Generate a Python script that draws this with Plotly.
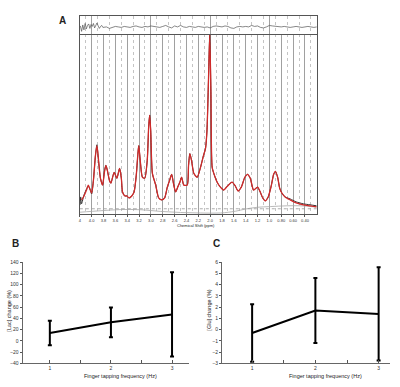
import plotly.graph_objects as go

W, H = 400, 387

# ---------------- Panel A data (spectrum) ----------------
fit_ppm = [4.171, 4.129, 4.087, 4.057, 4.029, 4.000, 3.970, 3.936, 3.911, 3.886,
           3.852, 3.815, 3.785, 3.760, 3.735, 3.701, 3.676, 3.620, 3.575, 3.529,
           3.499, 3.479, 3.440, 3.407, 3.368, 3.323, 3.284, 3.247, 3.222, 3.205,
           3.180, 3.143, 3.104, 3.062, 3.037, 3.020, 3.003, 2.975, 2.919, 2.869,
           2.818, 2.768, 2.723, 2.684, 2.650, 2.617, 2.583, 2.541, 2.511, 2.482,
           2.444, 2.387, 2.365, 2.343, 2.314, 2.276, 2.219, 2.163, 2.113, 2.079,
           2.054, 2.029, 2.007, 1.987, 1.966, 1.928, 1.882, 1.827, 1.771, 1.709,
           1.630, 1.575, 1.529, 1.474, 1.415, 1.368, 1.323, 1.267, 1.200, 1.155,
           1.113, 1.071, 1.020, 0.970, 0.928, 0.898, 0.861, 0.827, 0.790, 0.735,
           0.650, 0.549, 0.427, 0.314, 0.203]
fit_vals = [14, 18, 24, 29, 25, 21, 34, 59, 69, 56,
            36, 29, 42, 49, 44, 34, 31, 42, 36, 46,
            36, 22, 18, 18, 16, 18, 22, 39, 59, 69,
            54, 37, 36, 54, 89, 100, 84, 41, 29, 16,
            14, 16, 27, 34, 40, 30, 22, 28, 32, 37,
            29, 29, 49, 61, 54, 41, 37, 47, 59, 66,
            84, 134, 182, 124, 47, 39, 32, 27, 24, 28,
            32, 28, 23, 27, 37, 40, 36, 24, 27, 22,
            16, 13, 17, 28, 40, 43, 37, 26, 21, 17,
            14, 11, 9, 8, 7]
data_ppm = [4.195, 4.185] + fit_ppm
data_vals = [9, 17, 10, 19, 25, 28, 25, 20, 34, 59, 70, 55,
             36, 29, 43, 49, 44, 34, 31, 42, 36, 46,
             36, 22, 18, 18, 16, 18, 22, 39, 59, 69,
             54, 37, 36, 54, 89, 100, 84, 41, 29, 16,
             14, 16, 27, 34, 40, 30, 22, 28, 32, 37,
             29, 29, 49, 61, 54, 41, 37, 47, 59, 66,
             84, 134, 182, 124, 47, 39, 32, 27, 24, 28,
             32, 28, 23, 27, 37, 40, 36, 24, 27, 22,
             16, 13, 17, 28, 40, 43, 37, 26, 21, 17,
             15, 12, 10, 9, 8]
base_ppm = [4.197, 3.844, 3.508, 3.171, 2.835, 2.499, 2.163, 1.826, 1.574, 1.406,
            1.205, 0.986, 0.701, 0.482, 0.203]
base_vals = [1.5, 3, 4.2, 4, 2.3, 1.2, 0.7, 0.7, 2.5, 4.7, 6.5, 7.2, 8, 8, 6.7]
ref_level = 5

res_ppm = [4.19, 4.17, 4.15, 4.13, 4.11, 4.09, 4.07, 4.05, 4.03, 4.01,
           3.99, 3.97, 3.95, 3.93, 3.91, 3.89, 3.87, 3.85, 3.83, 3.81,
           3.75, 3.70, 3.65, 3.60, 3.55, 3.50, 3.45, 3.40, 3.35, 3.30,
           3.25, 3.20, 3.15, 3.10, 3.05, 3.00, 2.95, 2.90, 2.85, 2.80,
           2.75, 2.70, 2.65, 2.60, 2.55, 2.50, 2.45, 2.40, 2.35, 2.30,
           2.25, 2.20, 2.15, 2.10, 2.05, 2.00, 1.95, 1.90, 1.85, 1.80,
           1.75, 1.70, 1.65, 1.60, 1.55, 1.50, 1.45, 1.40, 1.35, 1.30,
           1.25, 1.20, 1.15, 1.10, 1.05, 1.00, 0.95, 0.90, 0.85, 0.80,
           0.75, 0.70, 0.65, 0.60, 0.55, 0.50, 0.45, 0.40, 0.35, 0.30,
           0.25, 0.20]
res_vals = [1, -4.5, 2, -3, 3.5, -2, 1.5, 3, -1.5, 2.5,
            0.5, 3.5, -1, 2, 4, 1, -1.5, 0.5, 1.5, -0.5,
            0, -1.5, -0.5, 0.5, 0, -0.5, 0.5, 0, -0.5, 0.5,
            1, 0, -0.5, 0.5, 0, 1, 0.5, 0, -0.5, 0.5,
            1.5, 0, -1, 1, 0, 1.5, 0, -0.5, 0.5, 0,
            -0.5, 0.5, 0, -0.5, 0, -1, 0.5, 1, 0.5, 0,
            1, 0.5, -1, -1.5, 0, 0.5, 0, 0.5, 0, 1.5,
            0.5, 1, -0.5, -1, 0, 1.5, 1, 0.5, 0.5, 0,
            0.5, 0, -0.5, 0, 0.5, 0, -0.5, 0, 0.5, 0,
            -0.5, 0]

spec_ticks = [4.2, 4.0, 3.8, 3.6, 3.4, 3.2, 3.0, 2.8, 2.6, 2.4, 2.2, 2.0,
              1.8, 1.6, 1.4, 1.2, 1.0, 0.8, 0.6, 0.4]
spec_ticklabels = ["4", "4.0", "3.8", "3.6", "3.4", "3.2", "3.0", "2.8", "2.6", "2.4",
                   "2.2", "2.0", "1.8", "1.6", "1.4", "1.2", "1.0", "0.80", "0.60", "0.40"]
spec_minor = [4.1, 3.9, 3.7, 3.5, 3.3, 3.1, 2.9, 2.7, 2.5, 2.3, 2.1, 1.9,
              1.7, 1.5, 1.3, 1.1, 0.9, 0.7, 0.5, 0.3]

# ---------------- Panels B / C data ----------------
freq = [1, 2, 3]
freq_labels = ["1", "2", "3"]
lac_mean = [14, 33, 47]
lac_err = [21.6, 26.5, 75]
lac_ticks = [140, 120, 100, 80, 60, 40, 20, 0, -20, -40]
glu_mean = [-0.3, 1.7, 1.4]
glu_err = [2.55, 2.9, 4.15]
glu_ticks = [6, 5, 4, 3, 2, 1, 0, -1, -2, -3]

FONT = "Liberation Sans, Arial, sans-serif"


def px(x):
    return x / W


def py(y):
    return 1 - y / H


fig = go.Figure()

# Panel A traces
fig.add_trace(go.Scatter(x=base_ppm, y=base_vals, mode="lines", line=dict(color="#a8a8a8", width=0.8, shape="spline"),
                         xaxis="x", yaxis="y", hoverinfo="skip"))
fig.add_trace(go.Scatter(x=[spec_ticks[0], 0.2], y=[ref_level, ref_level], mode="lines",
                         line=dict(color="#999999", width=0.8, dash="dot"), xaxis="x", yaxis="y"))
fig.add_trace(go.Scatter(x=data_ppm, y=data_vals, mode="lines", line=dict(color="#333333", width=1.0, shape="spline", smoothing=0.6),
                         xaxis="x", yaxis="y"))
fig.add_trace(go.Scatter(x=fit_ppm, y=fit_vals, mode="lines", line=dict(color="#d02a2a", width=1.3, shape="spline", smoothing=0.6),
                         xaxis="x", yaxis="y"))
fig.add_trace(go.Scatter(x=res_ppm, y=res_vals, mode="lines", line=dict(color="#555555", width=0.7),
                         xaxis="x2", yaxis="y2"))

# Panel B
fig.add_trace(go.Scatter(x=freq, y=lac_mean, mode="lines", line=dict(color="black", width=2),
                         error_y=dict(type="data", array=lac_err, color="black", thickness=2, width=2),
                         xaxis="x3", yaxis="y3"))
# Panel C
fig.add_trace(go.Scatter(x=freq, y=glu_mean, mode="lines", line=dict(color="black", width=2),
                         error_y=dict(type="data", array=glu_err, color="black", thickness=2, width=2),
                         xaxis="x4", yaxis="y4"))

spec_dom_x = [px(79), px(316.6)]
grid_common = dict(showgrid=True, gridcolor="#a0a0a0", gridwidth=0.8,
                   minor=dict(tickvals=spec_minor, showgrid=True, gridcolor="#c4c4c4", griddash="dot", gridwidth=0.8),
                   zeroline=False)

small_axis = dict(showline=True, linecolor="#666666", linewidth=1, zeroline=False, showgrid=False,
                  tickfont=dict(size=5, color="#333333", family=FONT))

fig.update_layout(
    width=W, height=H, margin=dict(l=0, r=0, t=0, b=0),
    paper_bgcolor="white", plot_bgcolor="white", showlegend=False,
    font=dict(family=FONT),
    xaxis=dict(domain=spec_dom_x, range=[4.2, 0.2], anchor="y",
               tickvals=spec_ticks, ticktext=spec_ticklabels, ticks="outside", ticklen=2, tickcolor="#555",
               tickfont=dict(size=4, color="#333", family=FONT),
               showline=True, linecolor="#555555", linewidth=1, **grid_common),
    yaxis=dict(domain=[py(214.5), py(31)], range=[-0.5, 183], anchor="x",
               showticklabels=False, ticks="", showgrid=False, zeroline=False,
               showline=True, mirror=True, linecolor="#555555", linewidth=1),
    xaxis2=dict(domain=spec_dom_x, range=[4.2, 0.2], anchor="y2", showticklabels=False, ticks="",
                showline=True, mirror=True, linecolor="#555555", linewidth=1, **grid_common),
    yaxis2=dict(domain=[py(31), py(13)], range=[-6.7, 11.3], anchor="x2",
                showticklabels=False, ticks="", showgrid=False, zeroline=False,
                showline=True, mirror=True, linecolor="#555555", linewidth=1),
    xaxis3=dict(domain=[px(21.7), px(188)], range=[0.555, 3.27], anchor="y3",
                tickvals=freq, ticktext=freq_labels, ticks="inside", ticklen=3, tickcolor="#555",
                minor=dict(tickvals=[1.5, 2.5], ticks="inside", ticklen=3, tickcolor="#555"),
                **small_axis),
    yaxis3=dict(domain=[py(366), py(263.3)], range=[-40, 140], anchor="x3",
                tickvals=lac_ticks, ticks="outside", ticklen=2, tickcolor="#555", **small_axis),
    xaxis4=dict(domain=[px(221.7), px(390)], range=[0.526, 3.18], anchor="y4",
                tickvals=freq, ticktext=freq_labels, ticks="inside", ticklen=3, tickcolor="#555",
                minor=dict(tickvals=[1.5, 2.5], ticks="inside", ticklen=3, tickcolor="#555"),
                **small_axis),
    yaxis4=dict(domain=[py(366), py(263.3)], range=[-3, 6], anchor="x4",
                tickvals=glu_ticks, ticks="outside", ticklen=2, tickcolor="#555", **small_axis),
)

ann = [
    dict(text="<b>A</b>", x=px(62), y=py(18), size=10),
    dict(text="<b>B</b>", x=px(15), y=py(244), size=10),
    dict(text="<b>C</b>", x=px(216), y=py(244), size=10),
    dict(text="Chemical Shift (ppm)", x=px(195), y=py(225.5), size=4),
    dict(text="Finger tapping frequency (Hz)", x=px(120), y=py(378.5), size=5.5),
    dict(text="Finger tapping frequency (Hz)", x=px(325), y=py(378.5), size=5.5),
    dict(text="[Lac] change (%)", x=px(8.5), y=py(312), size=5.5, angle=-90),
    dict(text="[Glu] change (%)", x=px(209), y=py(312), size=5.5, angle=-90),
]
for a in ann:
    fig.add_annotation(text=a["text"], x=a["x"], y=a["y"], xref="paper", yref="paper",
                       showarrow=False, textangle=a.get("angle", 0),
                       font=dict(size=a["size"], color="#222222", family=FONT),
                       xanchor="center", yanchor="middle")

fig.write_html("out.html", config={"displayModeBar": False},
               post_script="document.body.style.margin='0';document.body.style.overflow='hidden';")
